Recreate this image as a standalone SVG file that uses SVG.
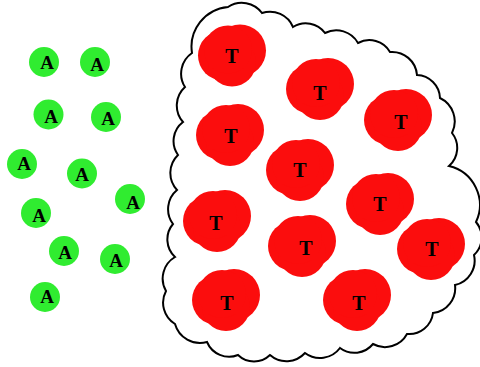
<svg xmlns="http://www.w3.org/2000/svg" width="480" height="367" viewBox="0 0 480 367">
<style>
.lbl{font-family:"Liberation Serif","Times New Roman",serif;font-weight:bold;fill:#000;text-anchor:middle}
.a{font-size:19px}
.t{font-size:20px}
.cloud{fill:#fff;stroke:#000;stroke-width:2;stroke-linejoin:miter}
</style>
<defs>
<g id="blob" fill="#fb0d0d">
<circle cx="8" cy="-5" r="26"/>
<circle cx="-9" cy="0" r="25"/>
<circle cx="0" cy="7" r="24"/>
<circle cx="-4" cy="-6" r="24"/>
</g>
<circle id="dot" r="15" fill="#30ec30"/>
</defs>

<g id="cloud">
<path class="cloud" d="M192,53 A40,40 0 0 1 228,7 A25,25 0 0 1 262,13 A25,25 0 0 1 293,27 A24,24 0 0 1 325,33 A25,25 0 0 1 358,43 A24,24 0 0 1 390,52 A25,25 0 0 1 417,75 A24,24 0 0 1 440,98 A26,26 0 0 1 452,133 A24,24 0 0 1 449,166 A40,40 0 0 1 476,222 A24,24 0 0 1 474,255 A25,25 0 0 1 455,285 A25,25 0 0 1 433,313 A24,24 0 0 1 407,334 A25,25 0 0 1 373,344 A24,24 0 0 1 340,348 A25,25 0 0 1 305,353 A25,25 0 0 1 270,355 A23,23 0 0 1 238,355 A24,24 0 0 1 207,342 A26,26 0 0 1 175,324 A25,25 0 0 1 166,291 A25,25 0 0 1 175,257 A24,24 0 0 1 173,224 A25,25 0 0 1 177,190 A25,25 0 0 1 178,155 A24,24 0 0 1 183,122 A25,25 0 0 1 185,87 A25,25 0 0 1 192,53 Z"/>
</g>

<g id="A1"><use href="#dot" x="44" y="62"/><text class="lbl a" x="47" y="69">A</text></g>
<g id="A2"><use href="#dot" x="95" y="62"/><text class="lbl a" x="97" y="71">A</text></g>
<g id="A3"><use href="#dot" x="48.5" y="114.5"/><text class="lbl a" x="51" y="123">A</text></g>
<g id="A4"><use href="#dot" x="106" y="117"/><text class="lbl a" x="108" y="125">A</text></g>
<g id="A5"><use href="#dot" x="22" y="164"/><text class="lbl a" x="24" y="170">A</text></g>
<g id="A6"><use href="#dot" x="82" y="173.5"/><text class="lbl a" x="82" y="181">A</text></g>
<g id="A7"><use href="#dot" x="130" y="199"/><text class="lbl a" x="133" y="209">A</text></g>
<g id="A8"><use href="#dot" x="36" y="213"/><text class="lbl a" x="39" y="222">A</text></g>
<g id="A9"><use href="#dot" x="64" y="251"/><text class="lbl a" x="65" y="259">A</text></g>
<g id="A10"><use href="#dot" x="115" y="259"/><text class="lbl a" x="116" y="267">A</text></g>
<g id="A11"><use href="#dot" x="45" y="297"/><text class="lbl a" x="47" y="303">A</text></g>

<g id="T1"><use href="#blob" x="232" y="55.5"/><text class="lbl t" x="232" y="63">T</text></g>
<g id="T2"><use href="#blob" x="320" y="89"/><text class="lbl t" x="320" y="99.5">T</text></g>
<g id="T3"><use href="#blob" x="398" y="120"/><text class="lbl t" x="401" y="128.5">T</text></g>
<g id="T4"><use href="#blob" x="230" y="135"/><text class="lbl t" x="231" y="143">T</text></g>
<g id="T5"><use href="#blob" x="300" y="170"/><text class="lbl t" x="300" y="176.5">T</text></g>
<g id="T6"><use href="#blob" x="380" y="204"/><text class="lbl t" x="380" y="211">T</text></g>
<g id="T7"><use href="#blob" x="217" y="221"/><text class="lbl t" x="216" y="229.5">T</text></g>
<g id="T8"><use href="#blob" x="302" y="246"/><text class="lbl t" x="306" y="254.5">T</text></g>
<g id="T9"><use href="#blob" x="431" y="249"/><text class="lbl t" x="432" y="255.5">T</text></g>
<g id="T10"><use href="#blob" x="226" y="300"/><text class="lbl t" x="227" y="309.5">T</text></g>
<g id="T11"><use href="#blob" x="357" y="300"/><text class="lbl t" x="359" y="309.5">T</text></g>
</svg>
